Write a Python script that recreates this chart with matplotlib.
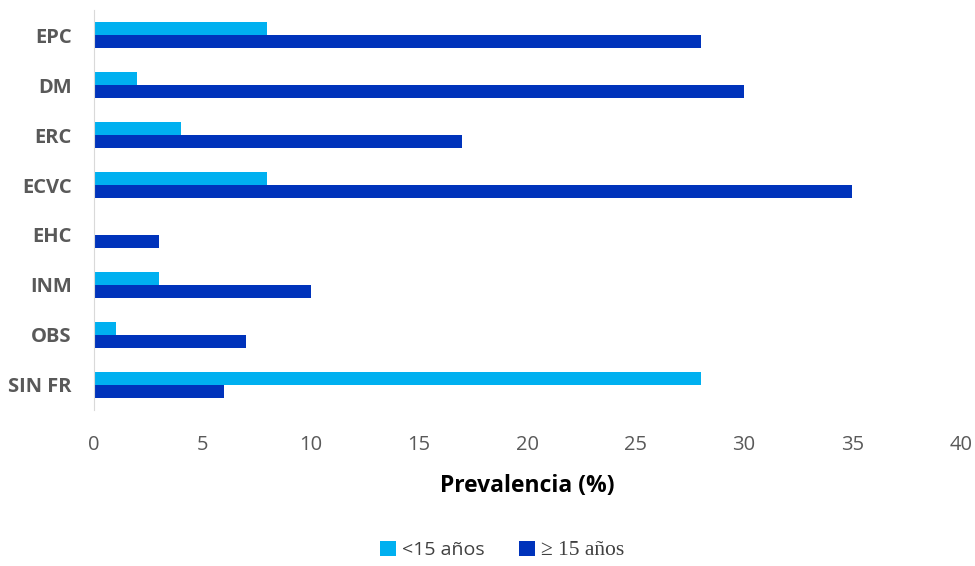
import matplotlib.pyplot as plt
import numpy as np

categorias = ["EPC", "DM", "ERC", "ECVC", "EHC", "INM", "OBS", "SIN FR"]
menores_15 = [8, 2, 4, 8, 0, 3, 1, 28]
mayores_15 = [28, 30, 17, 35, 3, 10, 7, 6]

fig = plt.figure(figsize=(9.75, 5.66), dpi=100)
ax = fig.add_axes([0.0964, 0.276, 0.889, 0.706])

y = np.arange(len(categorias))
h = 0.26
ax.barh(y - h / 2, menores_15, height=h, color="#00B0F0", label="<15 años")
ax.barh(y + h / 2, mayores_15, height=h, color="#0033BB", label="≥ 15 años")

ax.set_ylim(len(categorias) - 0.5, -0.5)
ax.set_xlim(0, 40)
ax.set_yticks(y)
ax.set_yticklabels(categorias, fontsize=14.5, fontweight="bold", color="#595959",
                   family="Open Sans")
ax.set_xticks(range(0, 41, 5))
ax.tick_params(axis="x", labelsize=14.5, labelcolor="#595959", length=0, pad=18)
ax.tick_params(axis="y", length=0, pad=16)
for lab in ax.get_xticklabels():
    lab.set_family("Open Sans")
for s in ["top", "right", "bottom"]:
    ax.spines[s].set_visible(False)
ax.spines["left"].set_color("#D9D9D9")
ax.set_xlabel("Prevalencia (%)", fontsize=16.5, fontweight="bold", family="Open Sans",
              labelpad=14)

leg = fig.legend(loc="center", bbox_to_anchor=(0.515, 0.027), ncol=2, frameon=False,
                 handlelength=0.8, handleheight=0.8, handletextpad=0.3,
                 columnspacing=1.8, fontsize=14)
texts = leg.get_texts()
texts[0].set_family("Open Sans")
texts[0].set_color("#404040")
texts[1].set_family("Liberation Serif")
texts[1].set_color("#404040")
texts[1].set_fontsize(15.5)

fig.savefig("out.png", dpi=100)
